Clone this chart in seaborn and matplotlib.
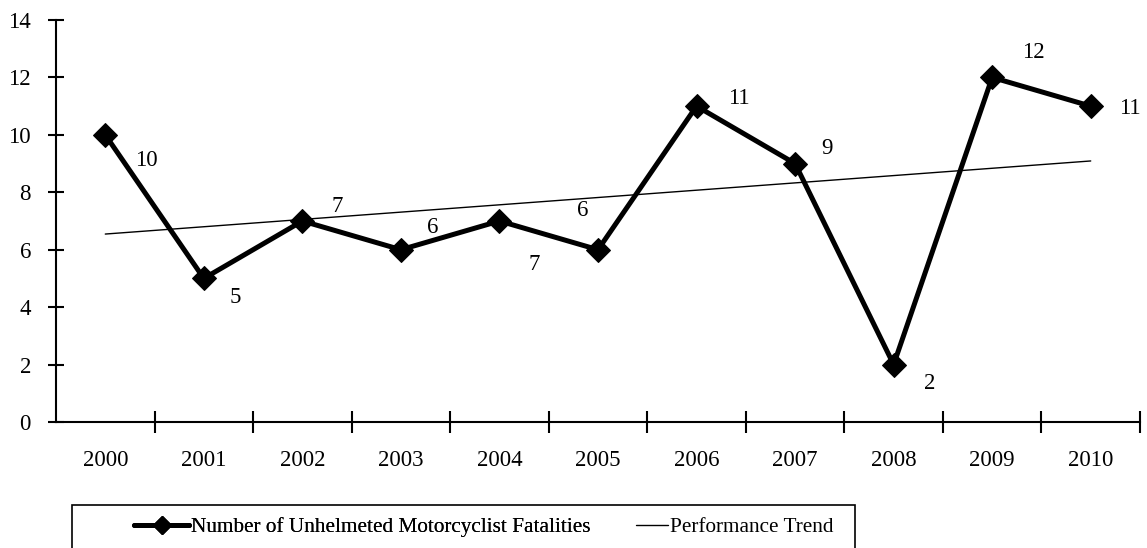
import numpy as np
import pandas as pd
import matplotlib
matplotlib.use('Agg')
import matplotlib.pyplot as plt
from matplotlib.lines import Line2D
from matplotlib.patches import Rectangle
import seaborn as sns

# data
years = [2000, 2001, 2002, 2003, 2004, 2005, 2006, 2007, 2008, 2009, 2010]
fatalities = [10, 5, 7, 6, 7, 6, 11, 9, 2, 12, 11]

# label offsets in pixels (placement only)
label_offsets = [(41, -26), (31, -19), (35, 15), (32, 22), (35, -44), (-15, 39),
                 (42, 8), (32, 15), (36, -19), (41, 25), (39, -2)]

df = pd.DataFrame({'year': years, 'fatalities': fatalities})

sns.set_style('white')
plt.rcParams['font.family'] = ['Liberation Serif', 'DejaVu Serif']
plt.rcParams['text.color'] = 'black'
plt.rcParams['xtick.color'] = 'black'
plt.rcParams['ytick.color'] = 'black'

fig = plt.figure(figsize=(11.47, 5.48), dpi=100)
ax = fig.add_axes([56 / 1147, 1 - 422 / 548, 1084 / 1147, 402 / 548])

# trend line (least squares, computed by seaborn)
sns.regplot(data=df, x='year', y='fatalities', scatter=False, ci=None,
            truncate=True, color='black', line_kws={'lw': 1.0}, ax=ax)

sns.lineplot(data=df, x='year', y='fatalities', color='black', lw=3.6,
             marker='D', markersize=12, markeredgecolor='black', ax=ax)

for x, y, off in zip(years, fatalities, label_offsets):
    ax.annotate(str(y), (x, y), xytext=off, textcoords='offset pixels',
                ha='center', va='center', fontsize=16.5, color='black',
                annotation_clip=False)

ax.set_xlim(1999.5, 2010.5)
ax.set_ylim(0, 14)
ax.set_yticks(range(0, 15, 2))
ax.set_xticks(years)
ax.set_xticklabels([str(y) for y in years])
ax.set_xticks(np.arange(2000.5, 2011, 1), minor=True)
ax.set_xlabel('')
ax.set_ylabel('')

sns.despine(ax=ax)
for s in ['left', 'bottom']:
    ax.spines[s].set_linewidth(1.5)
    ax.spines[s].set_color('black')

ax.tick_params(axis='x', which='major', bottom=False, length=0, pad=20, labelsize=16.5)
ax.tick_params(axis='x', which='minor', bottom=True, direction='inout', length=16, width=1.5)
ax.tick_params(axis='y', which='major', left=True, direction='inout', length=12, width=1.5,
               labelsize=16.5, pad=12)

# legend: two pieces so the handles can have different lengths
leg1 = fig.legend([Line2D([], [], color='black', lw=3.6, marker='D', markersize=9)],
                  ['Number of Unhelmeted Motorcyclist Fatalities'],
                  loc='center left', bbox_to_anchor=(134 / 1147, 1 - 527 / 548),
                  fontsize=15.3, frameon=False, handlelength=2.6, handletextpad=0.1,
                  borderpad=0, borderaxespad=0)
fig.add_artist(leg1)
fig.legend([Line2D([], [], color='black', lw=1.0)], ['Performance Trend'],
           loc='center left', bbox_to_anchor=(636 / 1147, 1 - 527 / 548),
           fontsize=15.3, frameon=False, handlelength=1.5, handletextpad=0.1,
           borderpad=0, borderaxespad=0)

fig.add_artist(Rectangle((72 / 1147, -0.05), (855 - 72) / 1147, (548 - 505) / 548 + 0.05,
                         transform=fig.transFigure, fill=False, ec='black', lw=1.2))

fig.savefig('out.png', dpi=100)
